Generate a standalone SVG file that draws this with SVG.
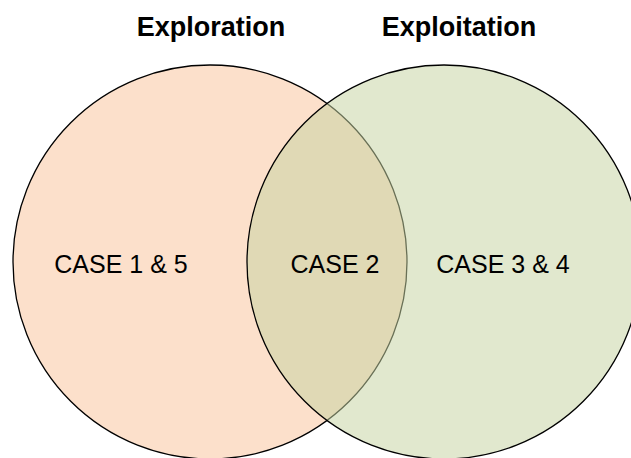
<svg xmlns="http://www.w3.org/2000/svg" width="631" height="458" viewBox="0 0 631 458">
  <style>
    .title { font-family: "Liberation Sans", Arial, sans-serif; font-weight: bold; font-size: 27px; fill: #000; text-anchor: middle; }
    .label { font-family: "Liberation Sans", Arial, sans-serif; font-size: 25px; fill: #000; text-anchor: middle; }
    .set { stroke: #000; stroke-width: 1.3; }
  </style>
  <rect width="631" height="458" fill="#fff"/>
  <g id="exploration">
    <circle class="set" cx="210" cy="262" r="197" fill="#FCE0CB"/>
    <text class="title" x="211" y="36">Exploration</text>
  </g>
  <g id="exploitation">
    <circle class="set" cx="444" cy="262" r="197" fill="#C6D4A3" fill-opacity="0.53"/>
    <text class="title" x="459" y="36">Exploitation</text>
  </g>
  <g id="case-1-5">
    <text class="label" x="121" y="273">CASE 1 &amp; 5</text>
  </g>
  <g id="case-2">
    <text class="label" x="335" y="273">CASE 2</text>
  </g>
  <g id="case-3-4">
    <text class="label" x="503" y="273">CASE 3 &amp; 4</text>
  </g>
  <g id="connectors"/>
</svg>
